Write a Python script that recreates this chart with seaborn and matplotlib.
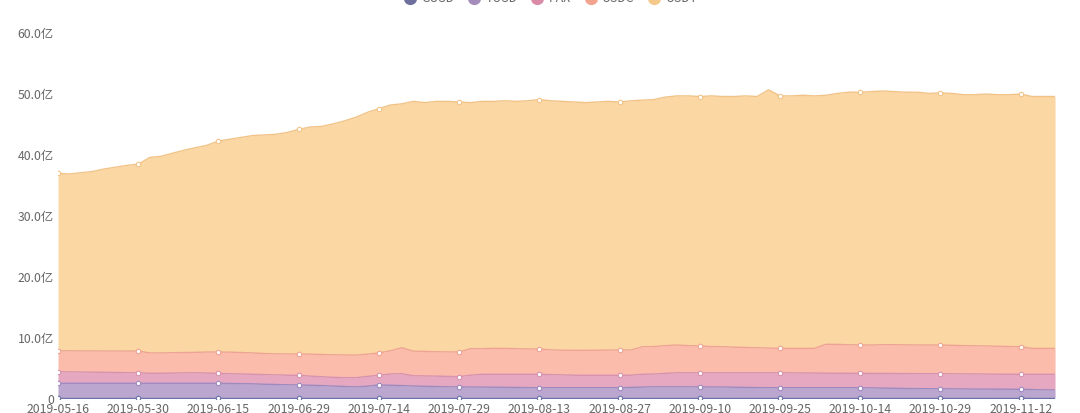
import matplotlib
matplotlib.use("Agg")
import matplotlib.pyplot as plt
import numpy as np
import seaborn as sns
from matplotlib.lines import Line2D

# stablecoin supply, unit: 亿, one sample every second day
series_names = ["GUSD", "TUSD", "PAX", "USDC", "USDT"]
x_labels = ["2019-05-16", "2019-05-30", "2019-06-15", "2019-06-29", "2019-07-14",
            "2019-07-29", "2019-08-13", "2019-08-27", "2019-09-10", "2019-09-25",
            "2019-10-14", "2019-10-29", "2019-11-12"]
y_labels = ["0", "10.0亿", "20.0亿", "30.0亿", "40.0亿", "50.0亿", "60.0亿"]

gusd = [0.15] * 88

tusd = [2.42] * 15 + [
    2.40, 2.37, 2.33, 2.27, 2.23, 2.18, 2.15, 2.10, 2.05, 1.97, 1.90, 1.83,
    1.95, 2.15, 2.10, 2.05, 1.98, 1.93, 1.89, 1.85, 1.82, 1.82, 1.80, 1.78,
    1.76, 1.74, 1.72] + [1.70] * 8 + [
    1.75, 1.80, 1.85, 1.85, 1.85, 1.85, 1.83, 1.82, 1.82, 1.78, 1.75, 1.72] + [1.70] * 9 + [
    1.67, 1.63, 1.60, 1.57, 1.55, 1.54, 1.54, 1.52, 1.50, 1.48, 1.47, 1.46,
    1.45, 1.44, 1.40, 1.35, 1.33]

pax = [
    1.90, 1.88, 1.85, 1.83, 1.81, 1.78, 1.75, 1.73, 1.65, 1.65, 1.68, 1.71,
    1.73, 1.68, 1.63, 1.60, 1.58, 1.57, 1.58, 1.57, 1.57, 1.58, 1.50, 1.45,
    1.43, 1.45, 1.52, 1.60, 1.58, 1.85, 1.95, 1.67, 1.70, 1.71, 1.70, 1.69,
    1.93, 2.10, 2.12, 2.14, 2.16, 2.18, 2.20, 2.15, 2.10, 2.05, 2.03, 2.03,
    2.03, 2.03, 2.00, 2.10, 2.10, 2.20, 2.30, 2.30, 2.32, 2.33, 2.33, 2.37,
    2.40, 2.43, 2.45, 2.45, 2.43, 2.41, 2.40, 2.38, 2.37, 2.36, 2.35, 2.38,
    2.41, 2.43, 2.45, 2.46, 2.46, 2.46, 2.46, 2.47, 2.47, 2.47, 2.46, 2.46,
    2.46, 2.50, 2.55, 2.57]

usdc = [
    3.43, 3.45, 3.46, 3.48, 3.49, 3.52, 3.54, 3.57, 3.33, 3.33, 3.35, 3.34,
    3.35, 3.45, 3.50, 3.53, 3.52, 3.50, 3.45, 3.45, 3.48, 3.50, 3.60, 3.65,
    3.70, 3.72, 3.70, 3.65, 3.67, 3.80, 4.25, 4.05, 4.02, 4.00, 4.02, 4.04,
    4.35, 4.20, 4.25, 4.25, 4.20, 4.15, 4.15, 4.05, 4.05, 4.08, 4.10, 4.12,
    4.14, 4.15, 4.13, 4.52, 4.50, 4.55, 4.55, 4.45, 4.40, 4.30, 4.27, 4.20,
    4.15, 4.10, 4.05, 4.00, 4.02, 4.04, 4.05, 4.74, 4.73, 4.69, 4.65, 4.65,
    4.71, 4.72, 4.71, 4.69, 4.70, 4.70, 4.67, 4.63, 4.62, 4.61, 4.58, 4.54,
    4.52, 4.25, 4.25, 4.25]

usdt = [
    29.10, 29.00, 29.22, 29.42, 29.83, 30.13, 30.44, 30.63, 32.05, 32.25, 32.70, 33.18,
    33.55, 33.90, 34.60, 34.92, 35.28, 35.65, 35.85, 36.00, 36.32, 36.82, 37.25, 37.40,
    37.85, 38.38, 39.00, 39.65, 40.05, 40.30, 40.00, 40.95, 40.80, 41.05, 41.08, 41.00,
    40.35, 40.55, 40.50, 40.60, 40.55, 40.70, 40.90, 40.85, 40.80, 40.72, 40.62, 40.70,
    40.78, 40.67, 40.87, 40.43, 40.50, 40.75, 40.85, 40.95, 40.90, 41.10, 41.03, 41.10,
    41.25, 41.20, 42.35, 41.40, 41.40, 41.50, 41.40, 40.83, 41.15, 41.40, 41.45, 41.55,
    41.60, 41.50, 41.42, 41.45, 41.25, 41.35, 41.30, 41.15, 41.18, 41.30, 41.25, 41.30,
    41.43, 41.30, 41.30, 41.30]

fill_colors = ["#8a90b8", "#bba6d0", "#e6a8c0", "#fbbcab", "#fbd7a4"]
line_colors = ["#6b72a6", "#9d8abf", "#d692ae", "#eea393", "#f2c386"]
legend_colors = ["#6d6f9c", "#a48cbb", "#d98aa6", "#f2a38e", "#f5c98a"]

sns.set_theme(style="white")
plt.rcParams["font.family"] = ["Noto Sans CJK SC", "DejaVu Sans"]

fig = plt.figure(figsize=(10.8, 4.13), dpi=100)
ax = fig.add_axes([0.0537, 0.0339, 0.9232, 0.886])

x = np.arange(len(usdt))
stack = np.cumsum(np.array([gusd, tusd, pax, usdc, usdt]), axis=0)

# areas first, then the boundary lines on top
lower = np.zeros(len(x))
for i, name in enumerate(series_names):
    ax.fill_between(x, lower, stack[i], color=fill_colors[i], lw=0, zorder=1)
    lower = stack[i]

for i, name in enumerate(series_names):
    sns.lineplot(x=x, y=stack[i], ax=ax, color=line_colors[i], lw=1.0, zorder=3)
    # hollow dots at label positions
    ax.plot(x[::7], stack[i][::7], ls="none", marker="o", ms=3.2,
            mfc="white", mec=line_colors[i], mew=0.8, zorder=4)

ax.set_xlim(0, len(x) - 1)
ax.set_ylim(0, 60)
ax.set_xticks(x[::7])
ax.set_xticklabels(x_labels)
ax.set_yticks(np.arange(0, 61, 10))
ax.set_yticklabels(y_labels)
ax.tick_params(axis="both", length=0, labelsize=8.8, labelcolor="#666666")
ax.tick_params(axis="x", pad=3)
ax.tick_params(axis="y", pad=3)
ax.grid(False)
for s in ax.spines.values():
    s.set_visible(False)

handles = [Line2D([], [], ls="none", marker="o", ms=8.5, mfc=c, mec=c) for c in legend_colors]
fig.legend(handles, series_names, loc="center", bbox_to_anchor=(0.51, 1.003),
           ncol=5, frameon=False, fontsize=8.8, labelcolor="#666666",
           handlelength=1.0, handletextpad=0.45, columnspacing=1.1)

fig.savefig("out.png", dpi=100)
